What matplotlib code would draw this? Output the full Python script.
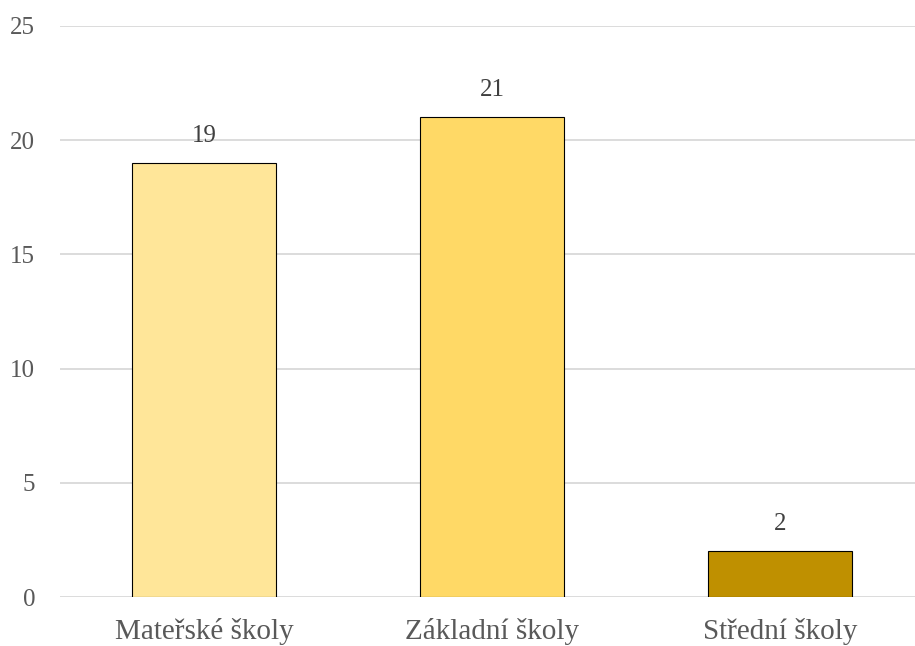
import matplotlib
matplotlib.use("Agg")
import matplotlib.pyplot as plt
import numpy as np

categories = ["Mateřské školy", "Základní školy", "Střední školy"]
values = [19, 21, 2]
colors = ["#FFE699", "#FFD966", "#BF9000"]

plt.rcParams['font.family'] = ['Liberation Serif', 'DejaVu Serif']
grey = "#595959"

fig = plt.figure(figsize=(9.15, 6.46), dpi=100)
ax = fig.add_axes([60/915, 49/646, 864/915, 571/646])
x = np.arange(len(categories))
bars = ax.bar(x, values, width=0.5, color=colors, edgecolor="black", linewidth=0.8, zorder=3)
for xi, v in zip(x, values):
    ax.text(xi, v + 0.7, str(v), ha="center", va="bottom", fontsize=18, color="#404040")

ax.set_xlim(-0.5, 2.5)
ax.set_ylim(0, 25)
ax.set_yticks(range(0, 26, 5))
ax.set_xticks(x)
ax.set_xticklabels(categories, fontsize=21, color=grey)
ax.tick_params(axis="y", labelsize=18, labelcolor=grey, length=0, pad=18)
ax.tick_params(axis="x", length=0, pad=15)
ax.grid(axis="y", color="#D9D9D9", linewidth=1.3, zorder=0)
for s in ax.spines.values():
    s.set_visible(False)

fig.savefig("out.png", dpi=100)
